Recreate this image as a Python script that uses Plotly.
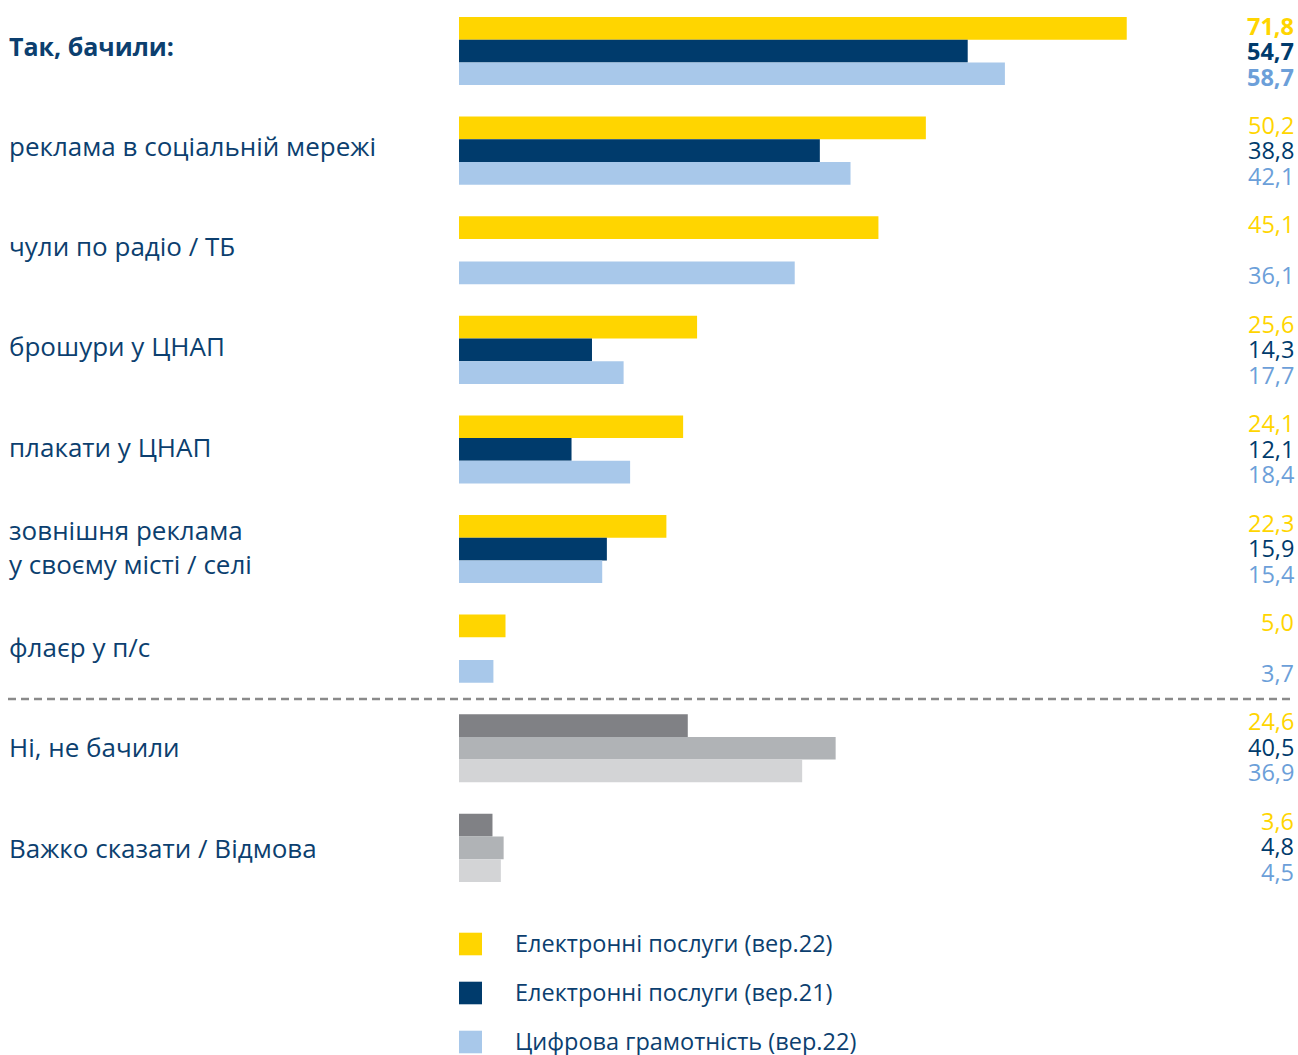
import plotly.graph_objects as go

categories = ["Так, бачили:", "реклама в соціальній мережі", "чули по радіо / ТБ",
              "брошури у ЦНАП", "плакати у ЦНАП", "зовнішня реклама<br>у своєму місті / селі",
              "флаєр у п/с", "Ні, не бачили", "Важко сказати / Відмова"]
e22 = [71.8, 50.2, 45.1, 25.6, 24.1, 22.3, 5.0, 24.6, 3.6]
e21 = [54.7, 38.8, None, 14.3, 12.1, 15.9, None, 40.5, 4.8]
dg22 = [58.7, 42.1, 36.1, 17.7, 18.4, 15.4, 3.7, 36.9, 4.5]
series_names = ["Електронні послуги (вер.22)", "Електронні послуги (вер.21)", "Цифрова грамотність (вер.22)"]

W, H = 1298, 1055
FONT = "Open Sans"
YEL, NAVY, LBLUE, LBLUE_TXT = "#FFD500", "#003B6C", "#A8C8EA", "#6C9FD9"
GRAYS = ["#808185", "#B0B3B6", "#D3D4D6"]
TXT = "#0C3F6F"

px_per_unit = 9.3
x_left = 459
right_margin = 5
plot_w = W - right_margin
xr = [-x_left / px_per_unit, (plot_w - x_left) / px_per_unit]

group_top0, group_step, bar_h = 17, 99.6, 22.7
label_top0, label_step = 45.5, 100.25
value_top0, value_step, value_gap = 51, 99.4, 25.5
n_gray_start = 7  # last two categories drawn in grays

def bar_y(i, j):
    return group_top0 + group_step * i + bar_h / 2 + bar_h * j

fig = go.Figure()
series = [e22, e21, dg22]
main_cols = [YEL, NAVY, LBLUE]
txt_cols = [YEL, NAVY, LBLUE_TXT]
for j, vals in enumerate(series):
    xs, ys, cols = [], [], []
    for i, v in enumerate(vals):
        if v is None:
            continue
        xs.append(v)
        ys.append(bar_y(i, j))
        cols.append(GRAYS[j] if i >= n_gray_start else main_cols[j])
    fig.add_trace(go.Bar(x=xs, y=ys, orientation="h", width=bar_h, marker=dict(color=cols, line=dict(width=0)),
                         showlegend=False, hoverinfo="skip"))

ann = []
for i, cat in enumerate(categories):
    bold = i == 0
    ly = label_top0 + label_step * i
    ann.append(dict(x=0, xref="paper", y=ly, yref="y", text=f"<b>{cat}</b>" if bold else cat,
                    xanchor="left", yanchor="middle", showarrow=False, xshift=7, align="left",
                    font=dict(family=FONT, size=26 if not bold else 25, color=TXT)))
    for j, vals in enumerate(series):
        v = vals[i]
        if v is None:
            continue
        t = f"{v:.1f}".replace(".", ",")
        if bold:
            t = f"<b>{t}</b>"
        ann.append(dict(x=1, xref="paper", y=value_top0 + value_step * i + (j - 1) * value_gap, yref="y", text=t,
                        xanchor="right", yanchor="middle", showarrow=False, xshift=3,
                        font=dict(family=FONT, size=23.5, color=txt_cols[j])))

shapes = [dict(type="line", xref="paper", yref="y", x0=8 / plot_w, x1=1, y0=699, y1=699,
               line=dict(color="#8A8A8A", width=2.7, dash="8px,5px"))]

leg_y = [944, 993, 1042]
for j, name in enumerate(series_names):
    shapes.append(dict(type="rect", xref="x", yref="y", x0=0, x1=23 / px_per_unit,
                       y0=leg_y[j] - 11.3, y1=leg_y[j] + 11.3, fillcolor=main_cols[j], line=dict(width=0)))
    ann.append(dict(x=(516 - x_left) / px_per_unit, xref="x", y=leg_y[j] - 1, yref="y", text=name,
                    xanchor="left", yanchor="middle", showarrow=False, xshift=-2, borderpad=0,
                    font=dict(family=FONT, size=23.5, color=TXT)))

fig.update_layout(
    width=W, height=H, margin=dict(l=0, r=right_margin, t=0, b=0),
    paper_bgcolor="white", plot_bgcolor="white",
    xaxis=dict(range=xr, visible=False, fixedrange=True),
    yaxis=dict(range=[H, 0], visible=False, fixedrange=True),
    barmode="overlay", annotations=ann, shapes=shapes,
)
fig.write_html("out.html")
